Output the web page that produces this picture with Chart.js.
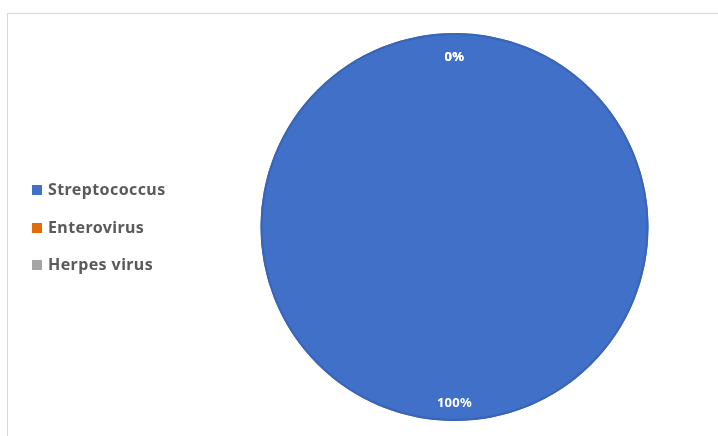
<!DOCTYPE html>
<html>
<head>
<meta charset="utf-8">
<script src="https://cdn.jsdelivr.net/npm/chart.js@4.4.1/dist/chart.umd.min.js"></script>
<style>
  html, body { margin: 0; padding: 0; background: #ffffff; }
  #wrap { position: relative; width: 718px; height: 436px; overflow: hidden; }
  #frame { position: absolute; left: 7px; top: 13px; width: 760px; height: 480px;
           border: 1px solid #d9d9d9; box-sizing: border-box; }
  canvas { position: absolute; left: 0; top: 0; }
</style>
</head>
<body>
<div id="wrap">
  <div id="frame"></div>
  <canvas id="chart" width="718" height="436"></canvas>
</div>
<script>
// Share of cases by pathogen
const categories = ['Streptococcus', 'Enterovirus', 'Herpes virus'];
const shares = [100, 0, 0];
const shareLabels = ['100%', '0%', '0%'];
const colors = ['#4070C8', '#E36C0A', '#A5A5A5'];

// Legend drawn on the left side of the frame
const sideLegend = {
  id: 'sideLegend',
  afterDraw(chart) {
    const ctx = chart.ctx;
    ctx.save();
    ctx.font = 'bold 16px "Noto Sans"';
    ctx.letterSpacing = '0.4px';
    ctx.textBaseline = 'middle';
    const rowY = [190, 228, 265];
    categories.forEach((name, i) => {
      ctx.fillStyle = colors[i];
      ctx.fillRect(32, rowY[i] - 5, 10, 10);
      ctx.fillStyle = '#5a5a5a';
      ctx.fillText(name, 48, rowY[i]);
    });
    ctx.restore();
  }
};

// Thin darker rim around the pie plus percentage labels near the outer edge
const sliceLabels = {
  id: 'sliceLabels',
  afterDatasetsDraw(chart) {
    const ctx = chart.ctx;
    const meta = chart.getDatasetMeta(0);
    const first = meta.data[0].getProps(['x', 'y', 'outerRadius'], true);
    ctx.save();
    ctx.strokeStyle = '#3A64B6';
    ctx.lineWidth = 2;
    ctx.beginPath();
    ctx.arc(first.x, first.y, first.outerRadius - 1, 0, Math.PI * 2);
    ctx.stroke();

    ctx.font = 'bold 13px "Noto Sans"';
    ctx.letterSpacing = '0.3px';
    ctx.fillStyle = '#ffffff';
    ctx.textAlign = 'center';
    ctx.textBaseline = 'middle';
    meta.data.forEach((arc, i) => {
      const p = arc.getProps(['x', 'y', 'startAngle', 'endAngle', 'outerRadius'], true);
      const mid = (p.startAngle + p.endAngle) / 2;
      const r = p.outerRadius - 21 + 3.5 * Math.sin(mid);
      ctx.fillText(shareLabels[i], p.x + Math.cos(mid) * r, p.y + Math.sin(mid) * r);
    });
    ctx.restore();
  }
};

new Chart(document.getElementById('chart'), {
  type: 'pie',
  data: {
    labels: categories,
    datasets: [{
      data: shares,
      backgroundColor: colors,
      borderWidth: 0
    }]
  },
  options: {
    responsive: false,
    animation: false,
    layout: { padding: { left: 260, right: 69, top: 33, bottom: 15 } },
    plugins: {
      legend: { display: false },
      tooltip: { enabled: false }
    }
  },
  plugins: [sideLegend, sliceLabels]
});
</script>
</body>
</html>
